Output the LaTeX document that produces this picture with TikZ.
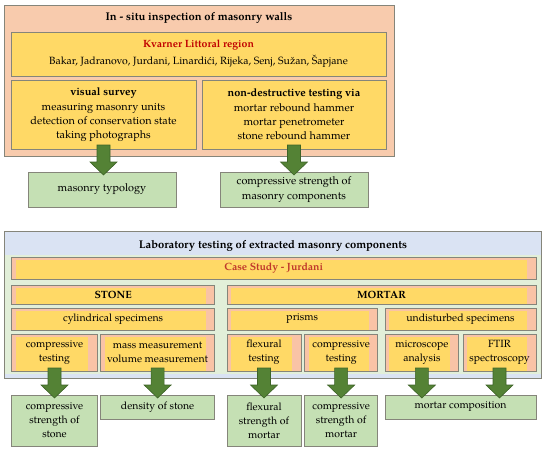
\documentclass[tikz,border=0pt]{standalone}
\usepackage{fontspec}
\setmainfont{TeX Gyre Pagella}
\usetikzlibrary{calc}
\definecolor{peach}{HTML}{F8CBAD}
\definecolor{ylw}{HTML}{FFD966}
\definecolor{grn}{HTML}{C5E0B4}
\definecolor{lgrn}{HTML}{E2EFD9}
\definecolor{lblue}{HTML}{DAE3F3}
\definecolor{pinkb}{HTML}{F9C3A6}
\definecolor{arrg}{HTML}{548235}
\definecolor{arrd}{HTML}{3D6327}
\definecolor{bord}{HTML}{85857A}
\definecolor{kvred}{HTML}{C00000}
\definecolor{csred}{HTML}{C0392B}
\tikzset{
 base/.style={draw=bord, line width=0.8pt, inner sep=0pt, outer sep=0pt, align=center, font=\fontsize{10.5}{14.2}\selectfont},
 topf/.style={font=\fontsize{10.9}{14.2}\selectfont},
 ybox/.style={base, fill=ylw},
 gbox/.style={base, fill=grn},
 pbox/.style={base, fill=pinkb, path picture={\fill[ylw] ([xshift=4pt,yshift=-2.5pt]path picture bounding box.north west) rectangle ([xshift=-9pt,yshift=0.5pt]path picture bounding box.south east);}},
 arrowst/.style={fill=arrg, draw=arrd, line width=0.6pt, line join=miter},
 ttl/.style={font=\fontsize{11.2}{13}\selectfont\bfseries, inner sep=0pt},
}
\newcommand\mkbox[7]{\node[#2, anchor=north west, minimum width={#5pt-#3pt}, minimum height={#6pt-#4pt}] (#1) at (#3,#4) {#7};}
\newcommand\blkarrow[3]{%
 \coordinate (bt) at ($(#1.south)+(0,-#3)$);
 \coordinate (bb) at ($(#1.south |- #2.north)+(0,3)$);
 \draw[arrowst] ([xshift=-6.5pt]bt) -- ([xshift=6.5pt]bt) -- ([xshift=6.5pt,yshift=13pt]bb) -- ([xshift=13.5pt,yshift=13pt]bb) -- (bb) -- ([xshift=-13.5pt,yshift=13pt]bb) -- ([xshift=-6.5pt,yshift=13pt]bb) -- cycle;}
\begin{document}
\begin{tikzpicture}[x=1pt, y=-1pt]
\useasboundingbox (0,0) rectangle (550,450);
% top panel
\mkbox{top}{base, fill=peach}{4}{5}{394}{156}{}
\node[ttl] (t1) at (199,18) {In - situ inspection of masonry walls};
\mkbox{kv}{ybox}{11}{32}{386}{76}{{\color{kvred}\bfseries Kvarner Littoral region}\\[2.5pt]Bakar, Jadranovo, Jurdani, Linardići, Rijeka, Senj, Sužan, Šapjane}
\mkbox{vs}{ybox, topf}{11}{80}{196}{149}{\textbf{visual survey}\\[0.5pt]measuring masonry units\\detection of conservation state\\taking photographs}
\mkbox{nd}{ybox, topf}{202}{80}{386}{149}{\textbf{non-destructive testing via}\\[0.5pt]mortar rebound hammer\\mortar penetrometer\\stone rebound hammer}
\mkbox{mt}{gbox, topf}{28}{172}{176}{207}{masonry typology}
\mkbox{cs}{gbox, topf}{220}{172}{368}{207}{compressive strength of\\masonry components}
% bottom panel
\mkbox{bot}{base, fill=lblue, path picture={\fill[lgrn] ([yshift=-24pt]path picture bounding box.north west) rectangle ([yshift=4pt]path picture bounding box.south east);}}{4}{231}{541}{378}{}
\node[ttl] (t2) at (273,246) {Laboratory testing of extracted masonry components};
\mkbox{case}{pbox}{11.6}{257}{536}{279}{\textbf{\color{csred}Case Study - Jurdani}}
\mkbox{stone}{pbox}{11.6}{285}{214.7}{304}{\textbf{STONE}}
\mkbox{mortar}{pbox}{227}{285}{536}{304}{\textbf{MORTAR}}
\mkbox{cyl}{pbox}{11.6}{308}{214.7}{330}{cylindrical specimens}
\mkbox{pri}{pbox}{227}{308}{377.6}{330}{prisms}
\mkbox{und}{pbox}{385}{308}{536}{330}{undisturbed specimens}
\mkbox{ct1}{pbox}{11.6}{334}{97.4}{371}{compressive\\testing}
\mkbox{mass}{pbox}{100.5}{334}{214.7}{371}{mass measurement\\volume measurement}
\mkbox{flx}{pbox}{227}{334}{301}{371}{flexural\\testing}
\mkbox{ct2}{pbox}{304.7}{334}{377.6}{371}{compressive\\testing}
\mkbox{mic}{pbox}{385}{334}{458.8}{371}{microscope\\analysis}
\mkbox{ftir}{pbox}{463}{334}{536}{371}{FTIR\\spectroscopy}
\mkbox{gcs}{gbox}{11.6}{395}{97.4}{446}{compressive\\strength of\\stone}
\mkbox{dens}{gbox}{100.5}{395}{214.7}{419}{density of stone}
\mkbox{gflx}{gbox}{227}{395}{301}{446}{flexural\\strength of\\mortar}
\mkbox{gcm}{gbox}{304.7}{395}{377.6}{446}{compressive\\strength of\\mortar}
\mkbox{mcomp}{gbox}{385}{395}{536}{419}{mortar composition}
% arrows
\blkarrow{vs}{mt}{4}
\blkarrow{nd}{cs}{4}
\blkarrow{ct1}{gcs}{3}
\blkarrow{mass}{dens}{3}
\blkarrow{flx}{gflx}{3}
\blkarrow{ct2}{gcm}{3}
\blkarrow{mic}{mcomp}{3}
\blkarrow{ftir}{mcomp}{3}
\end{tikzpicture}
\end{document}
